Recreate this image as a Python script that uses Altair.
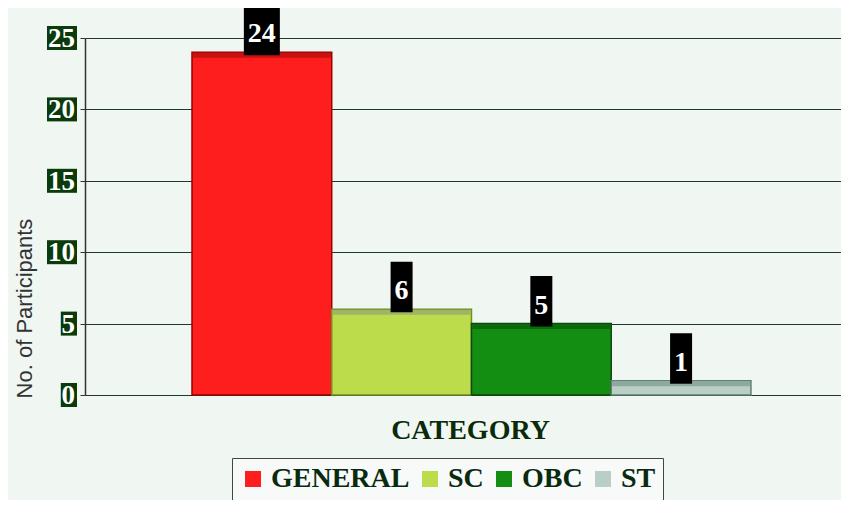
import altair as alt
import pandas as pd

categories = ["GENERAL", "SC", "OBC", "ST"]
participants = [24, 6, 5, 1]
bar_colors = ["#ff1e1e", "#bcdc4c", "#138e13", "#b9cec7"]
bar_strokes = ["#9a0000", "#6f8f1f", "#0a4a0a", "#5f7f72"]
top_colors = ["#c81212", "#9fb466", "#0b6a0b", "#8eaa9e"]
y_ticks = [0, 5, 10, 15, 20, 25]

df = pd.DataFrame({"category": categories, "count": participants})
df["label"] = df["count"].astype(str)
df["digits"] = df["label"].str.len().astype(str)

tk = pd.DataFrame({"count": y_ticks})
tk["label"] = tk["count"].astype(str)
tk["digits"] = tk["label"].str.len().astype(str)

SERIF = "Liberation Serif"

xscale = alt.Scale(domain=categories, paddingInner=0, paddingOuter=0.705, align=0.543)
yscale = alt.Scale(domain=[0, 25], nice=False, zero=True)

bars = alt.Chart(df).mark_bar(strokeWidth=1.5).encode(
    x=alt.X("category:N", sort=categories, scale=xscale,
            axis=alt.Axis(labels=False, ticks=False, domain=False, title="CATEGORY",
                          titleFont=SERIF, titleFontWeight="bold", titleFontSize=28,
                          titleColor="#0a2a0a", titleX=385, titleY=35,
                          titleBaseline="middle", titleAlign="center")),
    y=alt.Y("count:Q", scale=yscale,
            axis=alt.Axis(values=y_ticks, labels=False, grid=True, gridColor="#1f3a2a",
                          gridWidth=1.2, gridOpacity=1, domainColor="#333333",
                          domainWidth=1.5, tickColor="#333333", tickSize=5,
                          title="No. of Participants", titleFont="Liberation Sans",
                          titleFontWeight="normal", titleFontSize=22, titleColor="#333333",
                          titleX=-49, titleY=270, titleAngle=-90, titleAlign="center",
                          titleBaseline="bottom")),
    color=alt.Color("category:N", sort=categories,
                    scale=alt.Scale(domain=categories, range=bar_colors),
                    legend=alt.Legend(orient="none", legendX=147, legendY=420,
                                      direction="horizontal", title=None,
                                      labelFont=SERIF, labelFontWeight="bold",
                                      labelFontSize=28, labelColor="#0a2a10",
                                      symbolType="square", symbolSize=256,
                                      symbolStrokeWidth=0, columnPadding=6,
                                      labelOffset=4, padding=7, fillColor="#f7faf9",
                                      strokeColor="#444444", labelLimit=300)),
    stroke=alt.Stroke("category:N", sort=categories,
                      scale=alt.Scale(domain=categories, range=bar_strokes), legend=None),
)

tops = alt.Chart(df).mark_tick(thickness=5, size=138, yOffset=3, opacity=1).encode(
    x=alt.X("category:N", sort=categories, scale=xscale),
    y=alt.Y("count:Q", scale=yscale),
    color=alt.Color("category:N", sort=categories,
                    scale=alt.Scale(domain=categories, range=top_colors), legend=None),
)

val_box_paths = {
    "2": "M-0.72,-1.9L0.72,-1.9L0.72,0.12L-0.72,0.12Z",
    "1": "M-0.44,-1.9L0.44,-1.9L0.44,0.12L-0.44,0.12Z",
}
val_boxes = alt.Chart(df).mark_point(filled=True, size=2500, color="black",
                                     opacity=1, strokeWidth=0).encode(
    x=alt.X("category:N", sort=categories, scale=xscale),
    y=alt.Y("count:Q", scale=yscale),
    shape=alt.Shape("digits:N", scale=alt.Scale(domain=["2", "1"],
                    range=[val_box_paths["2"], val_box_paths["1"]]), legend=None),
)
val_text = alt.Chart(df).mark_text(font=SERIF, fontWeight="bold", fontSize=28,
                                   color="white", baseline="middle", dy=-18).encode(
    x=alt.X("category:N", sort=categories, scale=xscale),
    y=alt.Y("count:Q", scale=yscale),
    text="label:N",
)

tick_box_paths = {
    "2": "M-2.5,-1L0,-1L0,1L-2.5,1Z",
    "1": "M-1.35,-1L0,-1L0,1L-1.35,1Z",
}
tick_boxes = alt.Chart(tk).mark_point(filled=True, size=576, color="#0b3a0b",
                                      opacity=1, strokeWidth=0).encode(
    x=alt.value(-8),
    y=alt.Y("count:Q", scale=yscale),
    shape=alt.Shape("digits:N", scale=alt.Scale(domain=["2", "1"],
                    range=[tick_box_paths["2"], tick_box_paths["1"]]), legend=None),
)
tick_text = alt.Chart(tk).mark_text(font=SERIF, fontWeight="bold", fontSize=27,
                                    color="white", align="right", baseline="middle",
                                    dy=1).encode(
    x=alt.value(-10),
    y=alt.Y("count:Q", scale=yscale),
    text="label:N",
)

chart = alt.layer(bars, tops, val_boxes, val_text, tick_boxes, tick_text).resolve_scale(
    shape="independent", color="independent"
).properties(
    width=756, height=357,
    autosize=alt.AutoSizeParams(type="none"),
    padding={"left": 77, "top": 30, "right": 0, "bottom": 105},
    background="#f0f7f3",
).configure_view(stroke=None)

chart.save("out.html", embed_options={"renderer": "svg", "actions": False})
